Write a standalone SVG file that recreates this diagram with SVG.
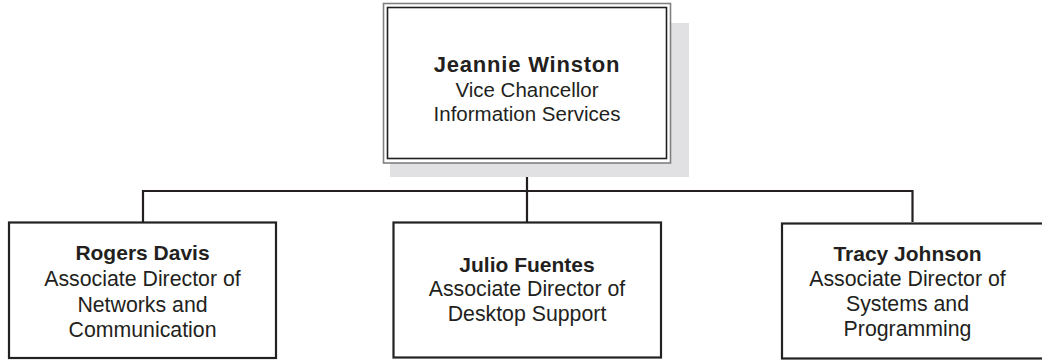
<svg xmlns="http://www.w3.org/2000/svg" width="1042" height="360" viewBox="0 0 1042 360">
<style>
.box{fill:#fff;stroke:#222;stroke-width:2.2}
.t{font-family:"Liberation Sans",Arial,sans-serif;fill:#231f20;text-anchor:middle;font-size:21.3px}
.b{font-weight:bold;font-size:21px}
.conn{fill:none;stroke:#231f20;stroke-width:2.2}
</style>
<rect width="1042" height="360" fill="#fff"/>
<g id="connectors">
<path class="conn" d="M527 163V222M143 222V191H912.5V222"/>
</g>
<g id="jeannie">
<rect x="390" y="23" width="299" height="154" fill="#e1e1e3"/>
<rect x="383.5" y="3.5" width="287" height="159.5" fill="#fff" stroke="#808080" stroke-width="1.6"/>
<rect x="387.5" y="7.5" width="279" height="151" fill="none" stroke="#231f20" stroke-width="1.6"/>
<text class="t b" x="527" y="71.5" style="font-size:22px;letter-spacing:0.8px">Jeannie Winston</text>
<text class="t" x="527" y="96.5" style="font-size:20.5px">Vice Chancellor</text>
<text class="t" x="527" y="121" style="font-size:20.5px">Information Services</text>
</g>
<g id="rogers">
<rect class="box" x="9" y="222.5" width="267" height="135.5"/>
<text class="t b" x="142.5" y="260">Rogers Davis</text>
<text class="t" x="142.5" y="286">Associate Director of</text>
<text class="t" x="142.5" y="311.5">Networks and</text>
<text class="t" x="142.5" y="336.5">Communication</text>
</g>
<g id="julio">
<rect class="box" x="393.5" y="222.5" width="267.5" height="135"/>
<text class="t b" x="527" y="271.5">Julio Fuentes</text>
<text class="t" x="527" y="296">Associate Director of</text>
<text class="t" x="527" y="320.5">Desktop Support</text>
</g>
<g id="tracy">
<rect class="box" x="782" y="223.5" width="268" height="135"/>
<text class="t b" x="907.5" y="261">Tracy Johnson</text>
<text class="t" x="907.5" y="286">Associate Director of</text>
<text class="t" x="907.5" y="310.5">Systems and</text>
<text class="t" x="907.5" y="336">Programming</text>
</g>
</svg>
